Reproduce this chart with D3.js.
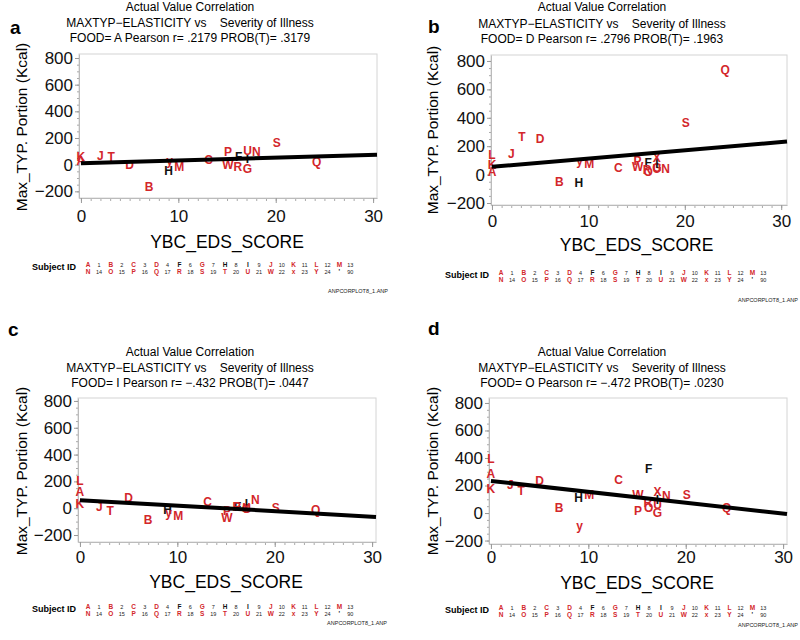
<!DOCTYPE html>
<html><head><meta charset="utf-8">
<script src="https://cdn.jsdelivr.net/npm/d3@7"></script>
<style>
body{margin:0;background:#fff}
svg text{font-family:"Liberation Sans",Arial,Helvetica,sans-serif}
</style>
</head><body>
<svg id="chart" width="800" height="640"></svg>
<script>
// ---------- DATA ----------
const subjectIds = ["A","B","C","D","F","G","H","I","J","K","L","M","N","O","P","Q","R","S","T","U","W","X","Y"];
const plotLabels = ["A","B","C","D","F","G","H","I","J","K","L","M","N","O","P","Q","R","S","T","U","W","X","y"];
const blackIds = ["F","H","I"];
const edsScore = [0,7,13.1,5,16.2,17.1,9,17.1,2,0,0,10.1,18,16.2,15.1,24.2,16.1,20.1,3.1,17.1,15.1,17.1,9.1];
// Max_TYP. Portion (Kcal) per food, same subject order
const foodA = [30,-165,35,-2,58,-28,-47,45,70,60,null,-15,98,null,98,20,-17,165,58,107,2,null,32];
const foodD = [23,-47,47,250,82,47,-58,80,145,70,140,77,42,23,98,742,35,363,269,40,54,117,100];
const foodI = [122,-84,47,77,15,0,-10,35,10,35,209,-52,60,null,-20,-10,15,2,-22,0,-72,5,-30];
const foodO = [289,41,245,233,325,2,114,100,204,180,398,136,124,41,17,41,72,131,160,63,136,155,-95];
const panelLetters = ["a","b","c","d"];
const foodCodes = ["A","D","I","O"];
const pearsonR = [".2179",".2796","\u2212.432","\u2212.472"];
const probT = [".3179",".1963",".0447",".0230"];
const fitIntercept = [10,55,60,233];
const fitSlope = [2.1,5.8,-4.1,-7.9];
const xTicks = [0,10,20,30];
const yTicks = [-200,0,200,400,600,800];
const legendLetters1 = ["A","B","C","D","F","G","H","I","J","K","L","M"];
const legendNumbers1 = ["1","2","3","4","6","7","8","9","10","11","12","13"];
const legendLetters2 = ["N","O","P","Q","R","S","T","U","W","x","Y","'"];
const legendNumbers2 = ["14","15","16","17","18","19","20","21","22","23","24","90"];

const foodValues = [foodA, foodD, foodI, foodO];

// ---------- LAYOUT ----------
const layouts = [
 {frame:[79,377,54,198], xDom:[-0.2,30.4], yDom:[-250,830], titleX:190, titleY:[10.5,27,41.5], label:[10,34],
  yTitle:[22,127], xTitleY:248, xTickY:222, legendY:[267,273.5], legendX:32, legendA:88, stamp:[388,293]},
 {frame:[491,787,55,205], xDom:[-0.1,30.6], yDom:[-214,842], titleX:602, titleY:[10.5,28,43], label:[428,33],
  yTitle:[433,130], xTitleY:251, xTickY:227, legendY:[275,281.5], legendX:445, legendA:501, stamp:[798,302]},
 {frame:[78,376,398,542], xDom:[-0.2,30.4], yDom:[-252,822], titleX:190, titleY:[356,371.5,386.5], label:[8,336],
  yTitle:[22,471], xTitleY:588, xTickY:563, legendY:[609,615.5], legendX:32, legendA:88, stamp:[387,625]},
 {frame:[489,787,398,544], xDom:[-0.2,30.4], yDom:[-225,836], titleX:602, titleY:[356,371.5,386.5], label:[428,335],
  yTitle:[433,471], xTitleY:589, xTickY:563, legendY:[610,616.5], legendX:445, legendA:501, stamp:[798,627]}
];

const RED = "#d3262b";
const svg = d3.select("#chart");

layouts.forEach((L, i) => {
  const g = svg.append("g");
  const [fx0, fx1, fy0, fy1] = L.frame;
  const x = d3.scaleLinear().domain(L.xDom).range([fx0, fx1]);
  const y = d3.scaleLinear().domain(L.yDom).range([fy1, fy0]);

  // panel letter
  g.append("text").attr("x", L.label[0]).attr("y", L.label[1])
    .attr("font-size", 19).attr("font-weight", "bold").text(panelLetters[i]);

  // titles
  const titles = ["Actual Value Correlation",
    "MAXTYP\u2212ELASTICITY vs    Severity of Illness",
    `FOOD= ${foodCodes[i]} Pearson r= ${pearsonR[i]} PROB(T)= ${probT[i]}`];
  titles.forEach((t, k) => {
    g.append("text").attr("x", L.titleX).attr("y", L.titleY[k])
      .attr("text-anchor", "middle").attr("font-size", 12)
      .style("white-space", "pre").attr("xml:space", "preserve").text(t);
  });

  // frame
  g.append("rect").attr("x", fx0).attr("y", fy0).attr("width", fx1 - fx0).attr("height", fy1 - fy0)
    .attr("fill", "none").attr("stroke", "#d4d4d4").attr("stroke-width", 1);

  // y axis
  const yMinor = d3.range(-200, 801, 50);
  const yMinorAx = g.append("g").attr("transform", `translate(${fx0},0)`)
    .call(d3.axisLeft(y).tickValues(yMinor).tickSize(2).tickFormat(""));
  yMinorAx.select(".domain").remove();
  yMinorAx.selectAll("line").attr("stroke", "#aaa");
  const yAx = g.append("g").attr("transform", `translate(${fx0},0)`)
    .call(d3.axisLeft(y).tickValues(yTicks).tickSize(4).tickSizeOuter(0).tickPadding(2).tickFormat(d3.format("d")));
  yAx.select(".domain").attr("stroke", "#bbb");
  yAx.selectAll("line").attr("stroke", "#999");
  yAx.selectAll("text").attr("font-size", 17).attr("fill", "#111").attr("font-family", "Liberation Sans, Arial, sans-serif");

  // x axis
  const xMinor = d3.range(0, 31, 1);
  const xMinorAx = g.append("g").attr("transform", `translate(0,${fy1})`)
    .call(d3.axisBottom(x).tickValues(xMinor).tickSize(3).tickFormat(""));
  xMinorAx.select(".domain").remove();
  xMinorAx.selectAll("line").attr("stroke", "#aaa");
  const xAx = g.append("g").attr("transform", `translate(0,${fy1})`)
    .call(d3.axisBottom(x).tickValues(xTicks).tickSize(5).tickSizeOuter(0).tickFormat(d3.format("d")));
  xAx.select(".domain").attr("stroke", "#bbb");
  xAx.selectAll("line").attr("stroke", "#999");
  xAx.selectAll("text").attr("font-size", 17).attr("fill", "#111")
    .attr("y", null).attr("dy", null)
    .attr("transform", `translate(0,${L.xTickY - fy1})`).attr("font-family", "Liberation Sans, Arial, sans-serif");

  // axis titles
  g.append("text").attr("x", (x(0) + x(30)) / 2).attr("y", L.xTitleY).attr("text-anchor", "middle")
    .attr("font-size", 17.5).text("YBC_EDS_SCORE");
  g.append("text").attr("transform", `translate(${L.yTitle[0]},${L.yTitle[1]}) rotate(-90)`)
    .attr("text-anchor", "middle").attr("dy", "0.35em").attr("font-size", 15.5)
    .text("Max_TYP. Portion (Kcal)");

  // points (letters)
  const vals = foodValues[i];
  const pts = subjectIds.map((id, k) => ({id, lab: plotLabels[k], sx: edsScore[k], v: vals[k]}))
    .filter(d => d.v !== null);
  g.append("g").selectAll("text").data(pts).join("text")
    .attr("x", d => x(d.sx)).attr("y", d => y(d.v))
    .attr("text-anchor", "middle").attr("dy", "0.36em")
    .attr("font-size", 12).attr("font-weight", "bold")
    .attr("fill", d => blackIds.includes(d.id) ? "#111" : RED)
    .text(d => d.lab);

  // regression line
  const xEnd = L.xDom[1];
  g.append("line")
    .attr("x1", x(0)).attr("y1", y(fitIntercept[i]))
    .attr("x2", x(xEnd)).attr("y2", y(fitIntercept[i] + fitSlope[i] * xEnd))
    .attr("stroke", "#000").attr("stroke-width", 4);

  // legend
  g.append("text").attr("x", L.legendX).attr("y", (L.legendY[0] + L.legendY[1]) / 2 - 0.5)
    .attr("font-size", 9).attr("font-weight", "bold").text("Subject ID");
  const step = 22.85;
  [[legendLetters1, legendNumbers1], [legendLetters2, legendNumbers2]].forEach(([lets, nums], r) => {
    lets.forEach((l, k) => {
      const lx = L.legendA + k * step;
      g.append("text").attr("x", lx).attr("y", L.legendY[r]).attr("text-anchor", "middle")
        .attr("font-size", 6.5).attr("font-weight", "bold")
        .attr("fill", (blackIds.includes(l) || l === "'") ? "#111" : RED).text(l);
      g.append("text").attr("x", lx + 11).attr("y", L.legendY[r]).attr("text-anchor", "middle")
        .attr("font-size", 5.5).attr("fill", "#222").text(nums[k]);
    });
  });

  // stamp
  g.append("text").attr("x", L.stamp[0]).attr("y", L.stamp[1]).attr("text-anchor", "end")
    .attr("font-size", 5.5).attr("fill", "#222").text("ANPCORPLOT8_1.ANP");
});
</script>
</body></html>
